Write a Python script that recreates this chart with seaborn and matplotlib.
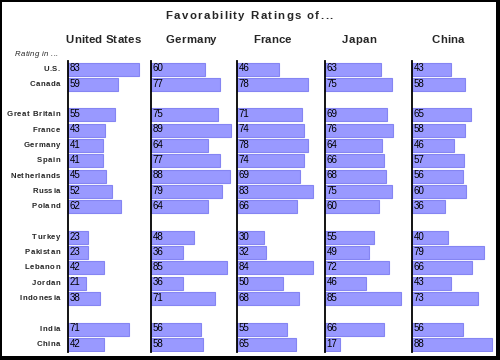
import matplotlib
matplotlib.use("Agg")
import matplotlib.pyplot as plt
import pandas as pd
import seaborn as sns
from matplotlib.font_manager import FontProperties, findfont, get_font
from matplotlib.patches import Rectangle

# === 1. Data ===
rated = ["United States", "Germany", "France", "Japan", "China"]

# countries where the rating was taken, in blocks (a blank row between blocks)
block_west = ["U.S.", "Canada"]
block_europe = ["Great Britain", "France", "Germany", "Spain", "Netherlands", "Russia", "Poland"]
block_muslim = ["Turkey", "Pakistan", "Lebanon", "Jordan", "Indonesia"]
block_asia = ["India", "China"]
blocks = [block_west, block_europe, block_muslim, block_asia]

us_fav = [83, 59, 55, 43, 41, 41, 45, 52, 62, 23, 23, 42, 21, 38, 71, 42]
germany_fav = [60, 77, 75, 89, 64, 77, 88, 79, 64, 48, 36, 85, 36, 71, 56, 58]
france_fav = [46, 78, 71, 74, 78, 74, 69, 83, 66, 30, 32, 84, 50, 68, 55, 65]
japan_fav = [63, 75, 69, 76, 64, 66, 68, 75, 60, 55, 49, 72, 46, 85, 66, 17]
china_fav = [43, 58, 65, 58, 46, 57, 56, 60, 36, 40, 79, 66, 43, 73, 56, 88]
fav_lists = [us_fav, germany_fav, france_fav, japan_fav, china_fav]

raters = [c for b in blocks for c in b]
order = []
for i, b in enumerate(blocks):
    if i > 0:
        order.append(f"_gap{i}")
    order.extend(b)

df = pd.concat(
    [pd.DataFrame({"rated": r, "country": raters, "fav": v}) for r, v in zip(rated, fav_lists)],
    ignore_index=True,
)

# === 2. Layout (pixels in a 500x360 figure) ===
W, H = 500, 360
line_x = [68, 151, 237, 325, 412]
px_per_unit = [0.855, 0.897, 0.91, 0.894, 0.908]
head_x = [103, 191, 272, 359, 448]
ax_w = 84
top_y, bot_y = 61.4, 352

BAR = "#9999ff"
EDGE = "#8585f2"

sns.set_style("white")
plt.rcParams["font.family"] = ["Liberation Sans", "DejaVu Sans"]

fig = plt.figure(figsize=(5, 3.6), dpi=100)
fig.patch.set_facecolor("white")


def fx(x, y):
    return x / W, 1 - y / H


def tracked(x, y, s, size, track, ha="center", **kw):
    # draws text with extra letter spacing, like the old gif
    prop = FontProperties(family="Liberation Sans", size=size, **kw)
    font = get_font(findfont(prop))
    font.set_size(size, 100)
    adv = [font.load_char(ord(c)).linearHoriAdvance / 65536 for c in s]
    total = sum(adv) + track * (len(s) - 1)
    start = {"center": x - total / 2, "right": x - total, "left": x}[ha]
    for c, a in zip(s, adv):
        fig.text(*fx(start, y), c, fontproperties=prop, ha="left", va="center")
        start += a + track


axes = []
for k, name in enumerate(rated):
    ax = fig.add_axes([line_x[k] / W, 1 - bot_y / H, ax_w / W, (bot_y - top_y) / H])
    sub = df[df["rated"] == name]
    sns.barplot(
        data=sub, x="fav", y="country", order=order, orient="h",
        color=BAR, edgecolor=EDGE, linewidth=0.8, width=0.85,
        saturation=1, ax=ax,
    )
    ax.set_xlim(0, ax_w / px_per_unit[k])
    ax.set_ylim(len(order) - 0.5, -0.5)
    ax.set_xticks([])
    ax.set_yticks([])
    ax.set_xlabel("")
    ax.set_ylabel("")
    ax.set_facecolor("none")
    for sp in ["top", "right", "bottom"]:
        ax.spines[sp].set_visible(False)
    ax.spines["left"].set_color("black")
    ax.spines["left"].set_linewidth(1.3)
    ax.spines["left"].set_zorder(5)
    for country, v in zip(sub["country"], sub["fav"]):
        ax.text(1.6 / px_per_unit[k], order.index(country) - 0.05, str(v),
                fontsize=7, color="black", ha="left", va="center")
    tracked(head_x[k], 40, name, 8.2, 0.2, weight="bold")
    axes.append(ax)

# row labels on the left
ax0 = axes[0]
for i, c in enumerate(order):
    if c.startswith("_gap"):
        continue
    y_pix = H - ax0.transData.transform((0, i))[1]
    tracked(60, y_pix, c, 5.6, 0.5, ha="right", weight="bold")

tracked(58, 55, "Rating in ...", 5.6, 0.3, ha="right", style="italic")

# title
tracked(249, 16, "Favorability Ratings of...", 8.2, 1.4, weight="bold")

# black frame (thicker on right and bottom)
for x, y, w, h in [(0, 0, W, 1.5), (0, 0, 2, H), (W - 4, 0, 4, H), (0, H - 4.5, W, 4.5)]:
    fig.add_artist(Rectangle(fx(x, y + h), w / W, h / H, transform=fig.transFigure,
                             facecolor="black", edgecolor="none", zorder=10))

plt.savefig("out.png", dpi=100)
